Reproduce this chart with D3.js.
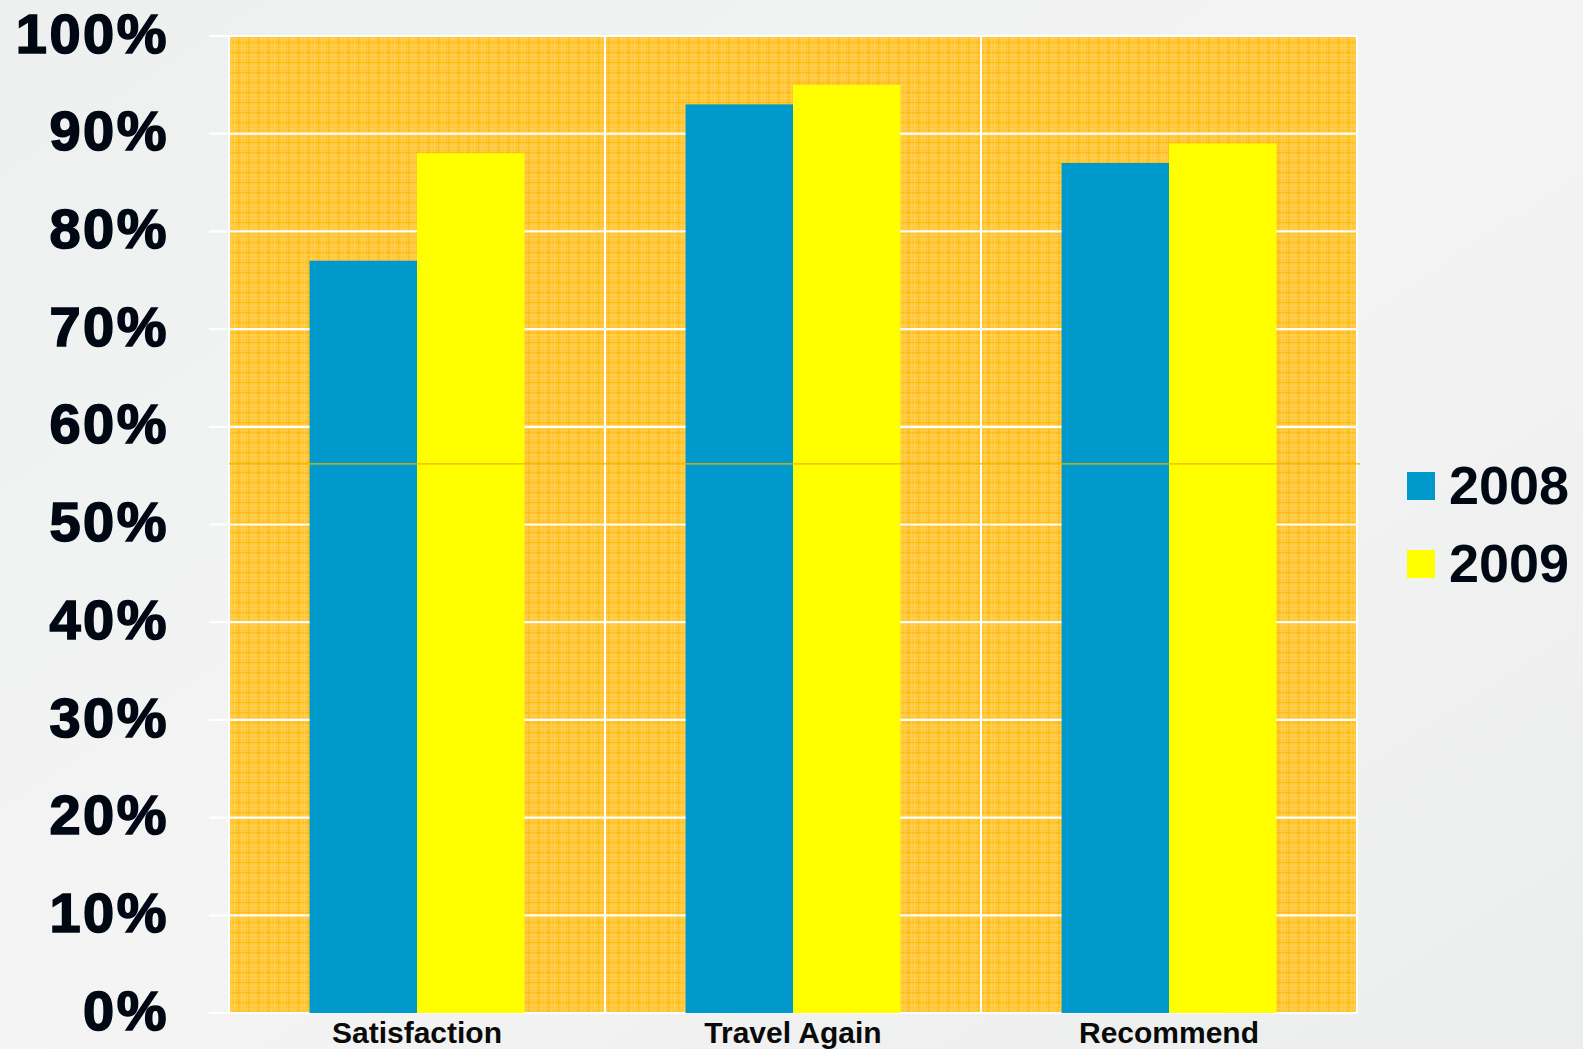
<!DOCTYPE html>
<meta charset="utf-8" />
<script src="https://d3js.org/d3.v7.min.js"></script>
<style>
  html, body { margin: 0; padding: 0; overflow: hidden; }
  body { background: #eff0f0; }
  .ylab { font-family: "Liberation Sans", Arial, sans-serif; font-weight: bold; font-size: 56px; letter-spacing: 2.5px; fill: #000814; stroke: #000814; stroke-width: 1.6px; }
  .xlab { font-family: "Liberation Sans", Arial, sans-serif; font-weight: bold; font-size: 30px; fill: #0a0a0a; }
  .legend-text { font-family: "Liberation Sans", Arial, sans-serif; font-weight: bold; font-size: 54px; fill: #000814; }
</style>
<body>
<svg id="chart" width="1583" height="1049"></svg>
<script>
  // data
  const categories = ["Satisfaction", "Travel Again", "Recommend"];
  const years = ["2008", "2009"];
  const values2008 = [77, 93, 87];
  const values2009 = [88, 95, 89];
  const yTicks = [0, 10, 20, 30, 40, 50, 60, 70, 80, 90, 100];
  const yearColors = ["#0099cc", "#ffff00"];
  const stripeValue = 56.2; // thin orange line across the plot

  const svg = d3.select("#chart"),
    width = +svg.attr("width"),
    height = +svg.attr("height");

  const margin = { top: 36, right: 226, bottom: 36, left: 229 };
  const plotW = width - margin.left - margin.right,
    plotH = height - margin.top - margin.bottom;

  // background, a soft light grey
  const defs = svg.append("defs");
  const bg = defs.append("linearGradient").attr("id", "bg").attr("x1", 0).attr("y1", 0).attr("x2", 1).attr("y2", 1);
  bg.append("stop").attr("offset", "0%").attr("stop-color", "#eef0f0");
  bg.append("stop").attr("offset", "50%").attr("stop-color", "#f3f4f3");
  bg.append("stop").attr("offset", "100%").attr("stop-color", "#eceeed");
  svg.append("rect").attr("width", width).attr("height", height).attr("fill", "url(#bg)");

  // fine grid texture of the plot area
  const pat = defs.append("pattern").attr("id", "grid").attr("patternUnits", "userSpaceOnUse")
    .attr("width", 10).attr("height", 10).attr("x", margin.left).attr("y", margin.top);
  pat.append("rect").attr("width", 10).attr("height", 10).attr("fill", "#ffc73a");
  pat.append("rect").attr("x", 0).attr("y", 0).attr("width", 10).attr("height", 1.2).attr("fill", "#ffbb0a");
  pat.append("rect").attr("x", 0).attr("y", 0).attr("width", 1.2).attr("height", 10).attr("fill", "#ffbb0a");
  [3, 6].forEach(p => {
    pat.append("rect").attr("x", 0).attr("y", p).attr("width", 10).attr("height", 0.6).attr("fill", "#ffd25c");
    pat.append("rect").attr("x", p).attr("y", 0).attr("width", 0.6).attr("height", 10).attr("fill", "#ffd25c");
  });

  const x0 = d3.scaleBand().domain(categories).range([0, plotW]).paddingInner(0).paddingOuter(0);
  const x1 = d3.scaleBand().domain(years).range([0, x0.bandwidth()]).paddingInner(0).paddingOuter(0.75);
  const y = d3.scaleLinear().domain([0, 100]).range([plotH, 0]);

  const g = svg.append("g").attr("transform", `translate(${margin.left},${margin.top})`);

  g.append("rect").attr("width", plotW).attr("height", plotH).attr("fill", "url(#grid)");

  // horizontal gridlines with short ticks to the left
  g.append("g").selectAll("line").data(yTicks).enter().append("line")
    .attr("x1", -20).attr("x2", plotW)
    .attr("y1", d => y(d)).attr("y2", d => y(d))
    .attr("stroke", "#ffffff").attr("stroke-width", 2.2);

  // vertical lines between categories
  const edges = [0].concat(categories.map(c => x0(c) + x0.bandwidth()));
  g.append("g").selectAll("line").data(edges).enter().append("line")
    .attr("x1", d => d).attr("x2", d => d)
    .attr("y1", 0).attr("y2", plotH)
    .attr("stroke", "#ffffff").attr("stroke-width", 2);

  // bars
  const rows = categories.map((c, i) => ({ cat: c, vals: [values2008[i], values2009[i]] }));
  g.append("g").selectAll("g").data(rows).enter().append("g")
    .attr("transform", d => `translate(${x0(d.cat)},0)`)
    .selectAll("rect")
    .data(d => d.vals.map((v, j) => ({ year: years[j], v: v, c: yearColors[j] })))
    .enter().append("rect")
    .attr("x", d => x1(d.year))
    .attr("width", x1.bandwidth())
    .attr("y", d => y(d.v))
    .attr("height", d => plotH - y(d.v))
    .attr("fill", d => d.c);

  // thin orange stripe
  g.append("line")
    .attr("x1", 0).attr("x2", plotW + 3)
    .attr("y1", y(stripeValue)).attr("y2", y(stripeValue))
    .attr("stroke", "#f2b400").attr("stroke-width", 1.2);

  // y labels
  g.append("g").selectAll("text").data(yTicks).enter().append("text")
    .attr("class", "ylab")
    .attr("x", -60)
    .attr("y", d => y(d) - 3)
    .attr("dy", "0.35em")
    .attr("text-anchor", "end")
    .text(d => d + "%");

  // category labels
  g.append("g").selectAll("text").data(categories).enter().append("text")
    .attr("class", "xlab")
    .attr("x", d => x0(d) + x0.bandwidth() / 2)
    .attr("y", plotH + 30)
    .attr("text-anchor", "middle")
    .text(d => d);

  // legend
  const legend = svg.append("g").attr("transform", "translate(1407,472)");
  legend.selectAll("rect").data(years).enter().append("rect")
    .attr("x", 0).attr("y", (d, i) => i * 78)
    .attr("width", 28).attr("height", 28)
    .attr("fill", (d, i) => yearColors[i]);
  legend.selectAll("text").data(years).enter().append("text")
    .attr("class", "legend-text")
    .attr("x", 42).attr("y", (d, i) => i * 78 + 32)
    .text(d => d);
</script>
</body>
